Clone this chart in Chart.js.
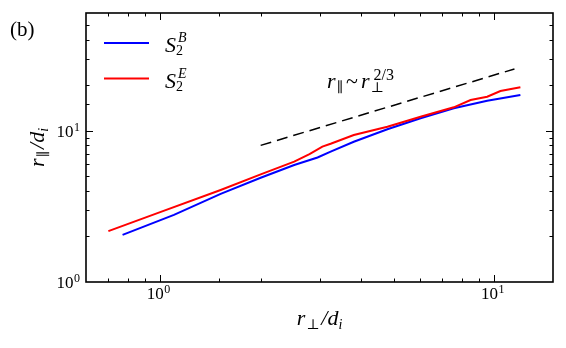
<!DOCTYPE html>
<html><head><meta charset="utf-8">
<script src="https://cdn.jsdelivr.net/npm/chart.js@4/dist/chart.umd.min.js"></script>
<style>html,body{margin:0;padding:0;background:#fff;}</style>
</head><body>
<canvas id="c" width="566" height="348"></canvas>
<script>
// ---- data ----
const rPerpB = [0.772, 1.10, 1.518, 2.0, 2.52, 2.96, 3.24, 3.80, 4.79, 6.02, 7.57, 9.53, 11.98];
const rParB  = [2.05, 2.78, 3.82, 4.89, 5.94, 6.65, 7.27, 8.46, 10.22, 12.08, 14.06, 15.79, 17.22];
const rPerpE = [0.70, 1.005, 1.518, 2.0, 2.52, 2.80, 3.06, 3.24, 3.80, 4.79, 6.02, 7.57, 8.50, 9.53, 10.44, 11.98];
const rParE  = [2.17, 2.91, 4.06, 5.15, 6.24, 7.0, 7.85, 8.2, 9.37, 10.63, 12.38, 14.28, 15.96, 16.78, 18.30, 19.36];
const guideX = [2.0, 11.5];
const guideY = [8.0, 25.6];
const seriesLabels = ['S_2^B', 'S_2^E'];
const xTickValues = [1, 10];
const xTickLabels = [['10', '0'], ['10', '1']];
const yTickValues = [1, 10];
const yTickLabels = [['10', '0'], ['10', '1']];
const xRange = [0.6, 15];
const yRange = [1, 60];

const SERIF = '"Liberation Serif", "DejaVu Serif", serif';
const BLUE = '#0000ff', RED = '#ff0000', INK = '#000000';

function toXY(xs, ys) { return xs.map((x, i) => ({x: x, y: ys[i]})); }

function richRun(ctx, x, y, parts, draw) {
  let cx = x;
  for (const p of parts) {
    if (p.stack) {
      let w = 0;
      for (const q of p.stack) {
        ctx.font = q.font;
        if (draw) ctx.fillText(q.t, cx + (q.dx || 0), y + (q.dy || 0));
        w = Math.max(w, ctx.measureText(q.t).width + (q.dx || 0));
      }
      cx += w + (p.after || 0);
    } else {
      ctx.font = p.font;
      cx += (p.dx || 0);
      if (draw) ctx.fillText(p.t, cx, y + (p.dy || 0));
      cx += ctx.measureText(p.t).width + (p.after || 0);
    }
  }
  return cx - x;
}
function rich(ctx, x, y, parts, align) {
  ctx.textBaseline = 'alphabetic';
  ctx.textAlign = 'left';
  const w = richRun(ctx, 0, 0, parts, false);
  let sx = x;
  if (align === 'center') sx = x - w / 2;
  else if (align === 'right') sx = x - w;
  richRun(ctx, sx, y, parts, true);
}

const I22 = 'italic 22px ' + SERIF, R22 = '22px ' + SERIF;
const I14 = 'italic 14px ' + SERIF, R14 = '14px ' + SERIF;
const R16 = '16px ' + SERIF;
const TICK_MAIN = '17px ' + SERIF, TICK_SUP = '12px ' + SERIF;

function isMajor(v) { const l = Math.log10(v); return Math.abs(l - Math.round(l)) < 1e-6; }
function powLabel(lab) {
  return [{t: lab[0], font: TICK_MAIN, after: 0.5}, {t: lab[1], font: TICK_SUP, dy: -6}];
}

const framePlugin = {
  id: 'frame',
  afterDatasetsDraw(chart) {
    const ctx = chart.ctx, a = chart.chartArea;
    const xs = chart.scales.x, ys = chart.scales.y;
    ctx.save();
    ctx.strokeStyle = INK;
    ctx.lineWidth = 1;
    ctx.beginPath();
    for (const t of xs.ticks) {
      const px = Math.round(xs.getPixelForValue(t.value)) + 0.5;
      if (px <= a.left + 1 || px >= a.right - 1) continue;
      const L = isMajor(t.value) ? 7 : 3.5;
      ctx.moveTo(px, a.bottom); ctx.lineTo(px, a.bottom - L);
      ctx.moveTo(px, a.top); ctx.lineTo(px, a.top + L);
    }
    for (const t of ys.ticks) {
      const py = Math.round(ys.getPixelForValue(t.value)) + 0.5;
      if (py <= a.top + 1 || py >= a.bottom - 1) continue;
      const L = isMajor(t.value) ? 7 : 3.5;
      ctx.moveTo(a.left, py); ctx.lineTo(a.left + L, py);
      ctx.moveTo(a.right, py); ctx.lineTo(a.right - L, py);
    }
    ctx.stroke();
    ctx.lineWidth = 1.6;
    ctx.strokeRect(a.left, a.top, a.right - a.left, a.bottom - a.top);

    ctx.fillStyle = INK;
    // tick labels
    xTickValues.forEach((v, i) => {
      const px = xs.getPixelForValue(v);
      rich(ctx, px - 1.5, a.bottom + 17, powLabel(xTickLabels[i]), 'center');
    });
    yTickValues.forEach((v, i) => {
      const py = ys.getPixelForValue(v);
      rich(ctx, a.left - 6, py + 6, powLabel(yTickLabels[i]), 'right');
    });

    // panel label
    ctx.font = '21px ' + SERIF;
    ctx.textBaseline = 'alphabetic';
    ctx.textAlign = 'left';
    ctx.fillText('(b)', 10, 36);

    // x title
    rich(ctx, (a.left + a.right) / 2, 325, [
      {t: 'r', font: I22, after: 1},
      {t: '\u22a5', font: R14, dy: 4, after: 2},
      {t: '/', font: I22},
      {t: 'd', font: I22},
      {t: 'i', font: I14, dy: 4}
    ], 'center');

    // y title (rotated)
    ctx.save();
    ctx.translate(44, (a.top + a.bottom) / 2);
    ctx.rotate(-Math.PI / 2);
    rich(ctx, 0, 0, [
      {t: 'r', font: I22, after: 1},
      {t: '\u2225', font: R14, dy: 4, after: 2},
      {t: '/', font: I22},
      {t: 'd', font: I22},
      {t: 'i', font: I14, dy: 4}
    ], 'center');
    ctx.restore();

    // legend
    const ds = chart.data.datasets;
    const legY = [43, 78.5];
    for (let k = 0; k < 2; k++) {
      ctx.strokeStyle = ds[k].borderColor;
      ctx.lineWidth = 2;
      ctx.beginPath();
      ctx.moveTo(104, legY[k]); ctx.lineTo(149, legY[k]);
      ctx.stroke();
      const sup = seriesLabels[k].split('^')[1];
      ctx.fillStyle = INK;
      rich(ctx, 165, legY[k] + 9, [
        {t: 'S', font: I22, after: 0},
        {stack: [
          {t: '2', font: R14, dy: 3},
          {t: sup, font: I14, dy: -10, dx: 2}
        ]}
      ], 'left');
    }

    // annotation
    rich(ctx, 327, 88, [
      {t: 'r', font: I22, after: 1},
      {t: '\u2225', font: R14, dy: 4, after: 3},
      {t: '~', font: R22, after: 3},
      {t: 'r', font: I22, after: 1},
      {stack: [
        {t: '\u22a5', font: R14, dy: 4},
        {t: '2/3', font: R16, dy: -8, dx: 3}
      ]}
    ], 'left');
    ctx.restore();
  }
};

new Chart(document.getElementById('c'), {
  type: 'line',
  data: {
    datasets: [
      {label: seriesLabels[0], data: toXY(rPerpB, rParB), borderColor: BLUE, borderWidth: 2, pointRadius: 0, fill: false, tension: 0, order: 2},
      {label: seriesLabels[1], data: toXY(rPerpE, rParE), borderColor: RED, borderWidth: 2, pointRadius: 0, fill: false, tension: 0, order: 1},
      {label: 'guide', data: toXY(guideX, guideY), borderColor: INK, borderWidth: 1.5, borderDash: [11, 6], pointRadius: 0, fill: false, order: 3}
    ]
  },
  options: {
    responsive: false,
    animation: false,
    devicePixelRatio: 1,
    layout: {padding: {top: 13, right: 13, left: 0, bottom: 0}},
    plugins: {legend: {display: false}, tooltip: {enabled: false}},
    scales: {
      x: {
        type: 'logarithmic', min: xRange[0], max: xRange[1], position: 'bottom',
        grid: {display: false, drawTicks: false}, border: {display: false},
        ticks: {display: false, autoSkip: false},
        afterFit: (s) => { s.height = 66; }
      },
      y: {
        type: 'logarithmic', min: yRange[0], max: yRange[1], position: 'left',
        grid: {display: false, drawTicks: false}, border: {display: false},
        ticks: {display: false, autoSkip: false},
        afterFit: (s) => { s.width = 86; }
      }
    }
  },
  plugins: [framePlugin]
});
</script>
</body></html>
